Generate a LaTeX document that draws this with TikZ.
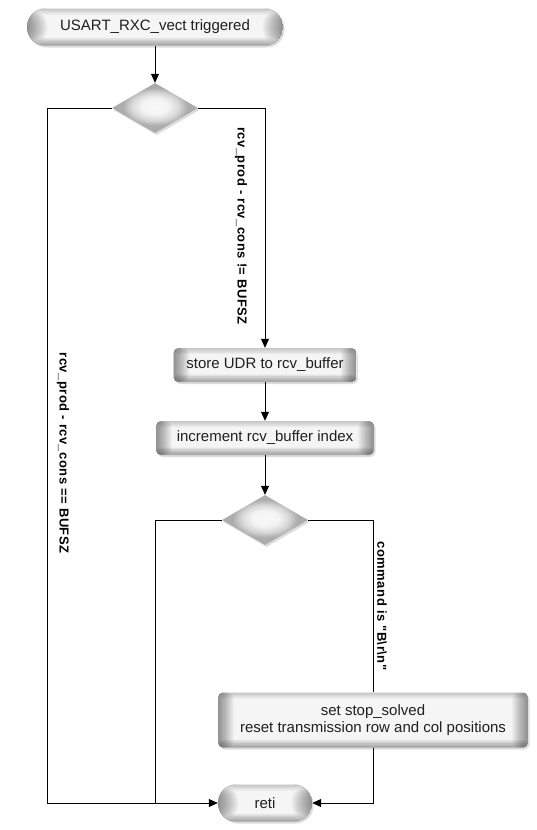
\documentclass[tikz,border=0pt]{standalone}
\usepackage{fontspec}
\setmainfont{Liberation Sans}
\newfontfamily\lblfont[LetterSpace=3.6]{Liberation Sans Bold}
\usetikzlibrary{shapes.geometric,arrows.meta,shadows}
\pgfdeclareradialshading{dmshade}{\pgfpoint{0bp}{2bp}}{color(0bp)=(gray!5); color(8bp)=(gray!9); color(14bp)=(gray!32); color(19bp)=(gray!65); color(50bp)=(gray!65)}
\tikzset{
  base/.style={font=\fontsize{15}{17.5}\selectfont, text=black!88, inner sep=0pt, align=center,
    drop shadow={opacity=0.28, shadow xshift=1.5pt, shadow yshift=-2pt}},
  bevel/.style={fill=gray!8, path picture={
      \foreach \i in {1,...,12}{
        \fill[black, fill opacity=0.04] (path picture bounding box.south west) rectangle ([xshift={\i*#1}]path picture bounding box.north west);
        \fill[black, fill opacity=0.04] ([xshift={-\i*#1}]path picture bounding box.south east) rectangle (path picture bounding box.north east);
      }
      \foreach \i in {1,...,5}{
        \fill[black, fill opacity=0.04] (path picture bounding box.north west) rectangle ([yshift={-\i*1.2pt}]path picture bounding box.north east);
        \fill[black, fill opacity=0.07] (path picture bounding box.south west) rectangle ([yshift={\i*1.5pt}]path picture bounding box.south east);
      }
    }},
  term/.style={base, rectangle, rounded corners=18pt, minimum height=37pt, bevel=1.7pt},
  proc/.style={base, rectangle, rounded corners=5pt, bevel=1.3pt},
  decis/.style={base, diamond, minimum width=86pt, minimum height=50pt, shading=dmshade},
  conn/.style={draw=black, line width=0.8pt},
  arr/.style={conn, -{Triangle[length=9pt,width=8pt]}},
  lbl/.style={font=\lblfont\fontsize{13}{14}\selectfont, rotate=-90, inner sep=0pt}
}
\begin{document}
\begin{tikzpicture}[x=1pt,y=-1pt]
\useasboundingbox (0,0) rectangle (537,830);
\node[term, minimum width=256pt] (start) at (155,27) {USART\_RXC\_vect triggered};
\node[decis] (d1) at (155,108) {};
\node[proc, minimum width=183pt, minimum height=34pt] (b1) at (265,365) {store UDR to rcv\_buffer};
\node[proc, minimum width=218pt, minimum height=34pt] (b2) at (265,438) {increment rcv\_buffer index};
\node[decis] (d2) at (265,520) {};
\node[proc, minimum width=310pt, minimum height=55pt] (b3) at (373,720) {set stop\_solved\\reset transmission row and col positions};
\node[term, minimum width=94pt] (reti) at (265,803) {reti};
\coordinate (cL) at (47,803);
\coordinate (cM) at (155,803);
\draw[arr] (start) -- (d1);
\draw[arr] (d1.east) -| (b1.north);
\draw[arr] (d1.west) -| (cL) -- (reti.west);
\draw[arr] (b1) -- (b2);
\draw[arr] (b2) -- (d2);
\draw[conn] (d2.west) -| (cM);
\draw[conn] (d2.east) -| (b3.north);
\draw[arr] (b3.south) |- (reti.east);
\node[lbl] (l1) at (241,226) {rcv\_prod - rcv\_cons != BUFSZ};
\node[lbl] (l2) at (63,453) {rcv\_prod - rcv\_cons == BUFSZ};
\node[lbl] (l3) at (382,606) {command is "B\textbackslash r\textbackslash n"};
\end{tikzpicture}
\end{document}
